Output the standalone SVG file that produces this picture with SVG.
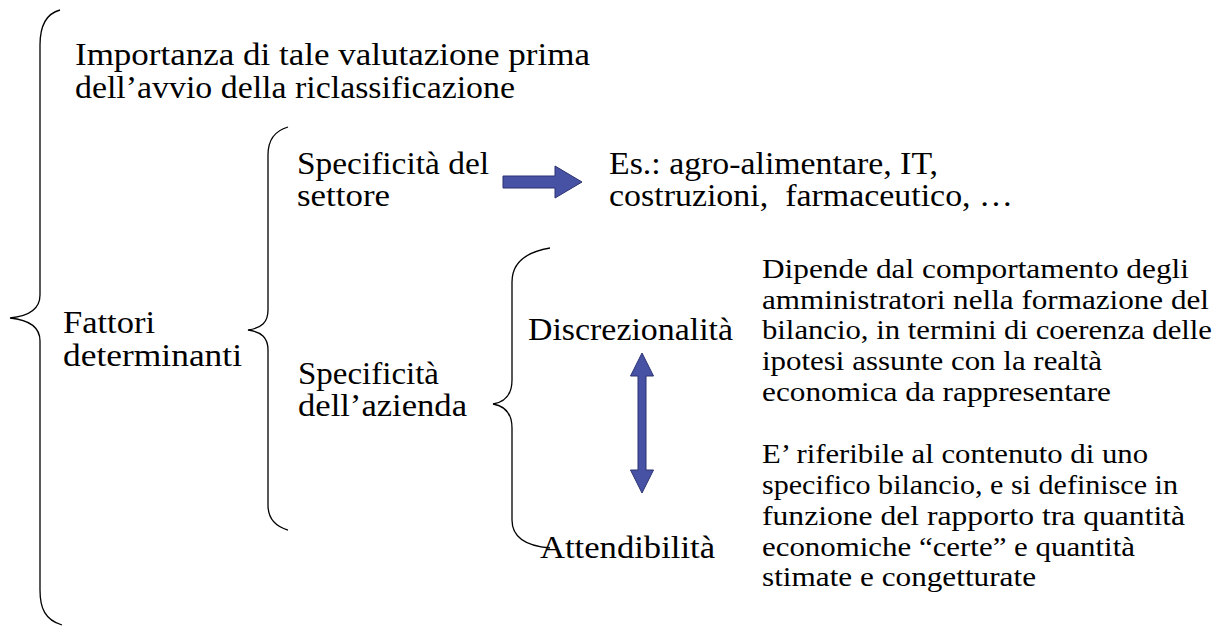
<svg xmlns="http://www.w3.org/2000/svg" width="1224" height="628" viewBox="0 0 1224 628">
<style>
.t{font-family:"Liberation Serif","Times New Roman",serif;font-size:31px;fill:#000}
.s{font-family:"Liberation Serif","Times New Roman",serif;font-size:28px;fill:#000}
.br{fill:none;stroke:#000;stroke-width:1.3}
.ar{fill:#4752A4;stroke:#2A3170;stroke-width:1}
</style>
<rect width="1224" height="628" fill="#fff"/>
<g id="connectors">
<path class="br" d="M60,10 C45,14 40,28 40,45 L40,295 C40,308 30,316 10,318 C30,320 40,328 40,341 L40,590 C40,608 45,620 62,625"/>
<path class="br" d="M288,127 C274,131 268,140 268,155 L268,310 C268,322 262,328 248,330 C262,332 268,338 268,350 L268,505 C268,518 274,526 288,530"/>
<path class="br" d="M550,248 C526,252 512,262 512,282 L512,380 C512,395 505,402 493,404 C505,406 512,413 512,428 L512,520 C512,538 526,546 550,548"/>
<polygon class="ar" points="503,176 555,176 555,166 582,182 555,198 555,188 503,188"/>
<polygon class="ar" points="642,353 653.5,376 646,376 646,470 653.5,470 642,493 630.5,470 638,470 638,376 630.5,376"/>
</g>
<g id="intro">
<text class="t" x="75" y="65" textLength="515" lengthAdjust="spacingAndGlyphs">Importanza di tale valutazione prima</text>
<text class="t" x="75" y="98" textLength="440" lengthAdjust="spacingAndGlyphs">dell’avvio della riclassificazione</text>
</g>
<g id="fattori">
<text class="t" x="63" y="333" textLength="92" lengthAdjust="spacingAndGlyphs">Fattori</text>
<text class="t" x="63" y="366" textLength="179" lengthAdjust="spacingAndGlyphs">determinanti</text>
</g>
<g id="settore">
<text class="t" x="297" y="174" textLength="192" lengthAdjust="spacingAndGlyphs">Specificità del</text>
<text class="t" x="297" y="206" textLength="93" lengthAdjust="spacingAndGlyphs">settore</text>
</g>
<g id="esempi">
<text class="t" x="609" y="174" textLength="329" lengthAdjust="spacingAndGlyphs">Es.: agro-alimentare, IT,</text>
<text class="t" x="609" y="206" textLength="404" lengthAdjust="spacingAndGlyphs" xml:space="preserve">costruzioni,  farmaceutico, …</text>
</g>
<g id="azienda">
<text class="t" x="298" y="384" textLength="141" lengthAdjust="spacingAndGlyphs">Specificità</text>
<text class="t" x="298" y="416" textLength="169" lengthAdjust="spacingAndGlyphs">dell’azienda</text>
</g>
<g id="discrezionalita">
<text class="t" x="528" y="340" textLength="205" lengthAdjust="spacingAndGlyphs">Discrezionalità</text>
</g>
<g id="attendibilita">
<text class="t" x="540" y="558" textLength="175" lengthAdjust="spacingAndGlyphs">Attendibilità</text>
</g>
<g id="desc-discrezionalita">
<text class="s" x="762" y="278" textLength="427" lengthAdjust="spacingAndGlyphs">Dipende dal comportamento degli</text>
<text class="s" x="762" y="308.5" textLength="447" lengthAdjust="spacingAndGlyphs">amministratori nella formazione del</text>
<text class="s" x="762" y="339" textLength="450" lengthAdjust="spacingAndGlyphs">bilancio, in termini di coerenza delle</text>
<text class="s" x="762" y="370" textLength="340" lengthAdjust="spacingAndGlyphs">ipotesi assunte con la realtà</text>
<text class="s" x="762" y="401" textLength="349" lengthAdjust="spacingAndGlyphs">economica da rappresentare</text>
</g>
<g id="desc-attendibilita">
<text class="s" x="762" y="463" textLength="386" lengthAdjust="spacingAndGlyphs">E’ riferibile al contenuto di uno</text>
<text class="s" x="762" y="494" textLength="416" lengthAdjust="spacingAndGlyphs">specifico bilancio, e si definisce in</text>
<text class="s" x="762" y="525" textLength="423" lengthAdjust="spacingAndGlyphs">funzione del rapporto tra quantità</text>
<text class="s" x="762" y="555.5" textLength="373" lengthAdjust="spacingAndGlyphs">economiche “certe” e quantità</text>
<text class="s" x="762" y="586" textLength="274" lengthAdjust="spacingAndGlyphs">stimate e congetturate</text>
</g>
</svg>
